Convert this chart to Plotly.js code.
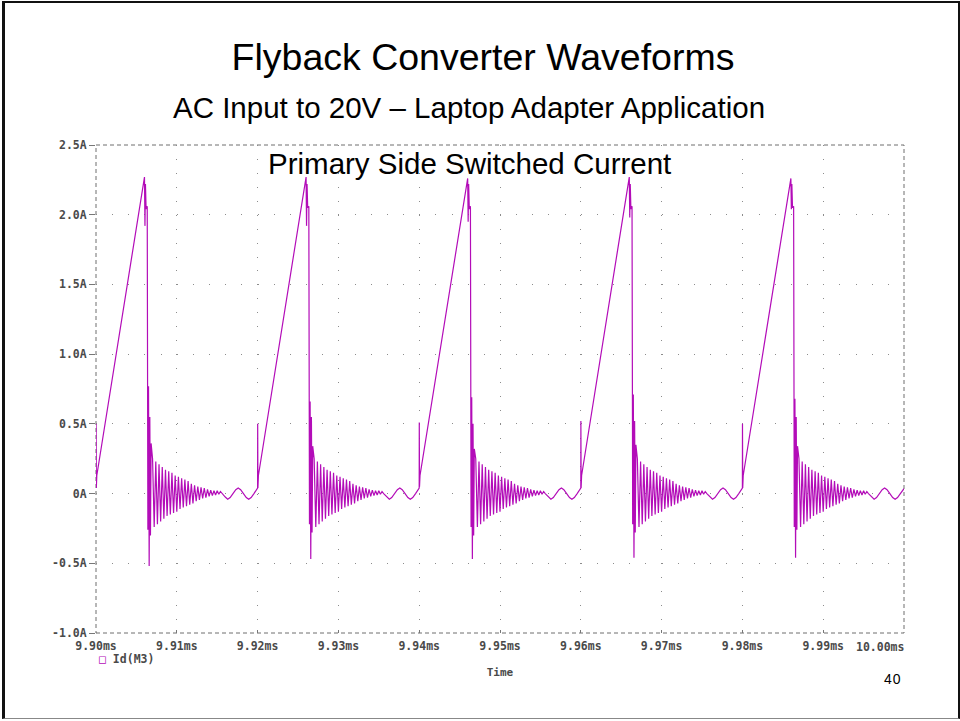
<!DOCTYPE html>
<html>
<head>
<meta charset="utf-8">
<script src="https://cdn.plot.ly/plotly-3.0.1.min.js"></script>
<style>
  html, body { margin: 0; padding: 0; background: #fff; }
  #wrap { position: relative; width: 960px; height: 721px; overflow: hidden; }
  #chart { position: absolute; left: 0; top: 0; width: 960px; height: 721px; }
  #frame { position: absolute; left: 2px; top: 1px; width: 953px; height: 715px;
           border-top: 2px solid #111; border-left: 3px solid #111; border-right: 2px solid #111;
           border-bottom: 1px solid #888; pointer-events: none; }
  #pagenum { position: absolute; left: 884px; top: 672px; font-family: "Liberation Sans", Arial, sans-serif;
             font-size: 14px; line-height: 14px; letter-spacing: 1px; color: #000; }
</style>
</head>
<body>
<div id="wrap">
  <div id="chart"></div>
  <div id="frame"></div>
  <div id="pagenum">40</div>
</div>
<script>
// ---- Data (time in ms, current in A) ----
// Start time of each switching period
const cycleStartsMs = [9.90, 9.92, 9.94, 9.96, 9.98];

// Time offsets within a period for the switching-edge part (turn-on spike, ramp, peak, turn-off)
const edgeOffsetsMs = [0.00000, 0.00001, 0.00004, 0.00010, 0.00600, 0.00606, 0.00612, 0.00620,
                       0.00634, 0.00642, 0.00650, 0.00658, 0.00666, 0.00674, 0.00682];

// Current at those offsets, one list per period
const cycle1EdgeA = [0.04, 0.50, 0.04, 0.13, 2.27, 1.92, 2.22, 2.04, 2.06, -0.26, 0.77, -0.52, 0.55, -0.30, 0.36];
const cycle2EdgeA = [0.04, 0.50, 0.04, 0.13, 2.27, 1.92, 2.22, 2.05, 2.06, -0.22, 0.66, -0.47, 0.55, -0.28, 0.34];
const cycle3EdgeA = [0.04, 0.51, 0.05, 0.13, 2.26, 1.95, 2.22, 2.04, 2.06, -0.24, 0.69, -0.47, 0.50, -0.30, 0.32];
const cycle4EdgeA = [0.04, 0.52, 0.04, 0.13, 2.27, 1.98, 2.22, 2.04, 2.06, -0.22, 0.71, -0.46, 0.52, -0.28, 0.35];
const cycle5EdgeA = [0.04, 0.50, 0.04, 0.13, 2.26, 2.04, 2.22, 2.05, 2.06, -0.24, 0.68, -0.46, 0.55, -0.26, 0.34];

// Ringing after turn-off (same in every period): time offsets and current
const ringOffsetsMs = [0.0070, 0.0072, 0.0074, 0.0076, 0.0078, 0.0080, 0.0082, 0.0084, 0.0086, 0.0088,
                       0.0090, 0.0092, 0.0094, 0.0096, 0.0098, 0.0100, 0.0102, 0.0104, 0.0106, 0.0108,
                       0.0110, 0.0112, 0.0114, 0.0116, 0.0118, 0.0120, 0.0122, 0.0124, 0.0126, 0.0128,
                       0.0130, 0.0132, 0.0134, 0.0136, 0.0138, 0.0140, 0.0142, 0.0144, 0.0146, 0.0148,
                       0.0150, 0.0152, 0.0154, 0.0156,
                       0.0160, 0.0163, 0.0166, 0.01695, 0.0173, 0.0176, 0.0179, 0.01825, 0.0186, 0.0189,
                       0.0192, 0.01955, 0.0200];
const ringA = [0.25, -0.24, 0.23, -0.22, 0.21, -0.20, 0.19, -0.18, 0.17, -0.16,
               0.16, -0.15, 0.15, -0.14, 0.13, -0.13, 0.12, -0.11, 0.11, -0.10,
               0.10, -0.09, 0.09, -0.08, 0.07, -0.07, 0.06, -0.055, 0.05, -0.045,
               0.045, -0.035, 0.04, -0.03, 0.03, -0.02, 0.025, -0.015, 0.02, -0.01,
               0.02, -0.005, 0.015, 0.00,
               -0.025, -0.040, -0.028, 0.000, 0.028, 0.040, 0.028, 0.000, -0.028, -0.040,
               -0.028, 0.000, 0.035];

// Axis ticks
const yTickVals = [-1.0, -0.5, 0, 0.5, 1.0, 1.5, 2.0, 2.5];
const yTickText = ['-1.0A', '-0.5A', '0A', '0.5A', '1.0A', '1.5A', '2.0A', '2.5A'];
const xTickVals = [9.90, 9.91, 9.92, 9.93, 9.94, 9.95, 9.96, 9.97, 9.98, 9.99, 10.00];
const xTickText = ['9.90ms', '9.91ms', '9.92ms', '9.93ms', '9.94ms', '9.95ms', '9.96ms', '9.97ms', '9.98ms', '9.99ms', '10.00ms'];

// Text
const titleText = 'Flyback Converter Waveforms';
const subtitleText = 'AC Input to 20V – Laptop Adapter Application';
const panelText = 'Primary Side Switched Current';
const seriesName = 'Id(M3)';
const xAxisName = 'Time';

// ---- Build trace ----
const cycleEdges = [cycle1EdgeA, cycle2EdgeA, cycle3EdgeA, cycle4EdgeA, cycle5EdgeA];
const tx = [], ty = [];
cycleStartsMs.forEach(function (t0, i) {
  edgeOffsetsMs.forEach(function (dt, k) { tx.push(t0 + dt); ty.push(cycleEdges[i][k]); });
  ringOffsetsMs.forEach(function (dt, k) { tx.push(t0 + dt); ty.push(ringA[k]); });
});

const lineColor = '#b30cb8';
const monoFont = { family: 'DejaVu Sans Mono, monospace', size: 11.5, color: '#4a4a4a', weight: 'bold' };

const trace = {
  x: tx, y: ty, type: 'scatter', mode: 'lines', name: seriesName,
  line: { color: lineColor, width: 1.2 }, showlegend: false, hoverinfo: 'skip'
};

const layout = {
  width: 960, height: 721,
  margin: { l: 96, r: 56, t: 145, b: 88, autoexpand: false },
  paper_bgcolor: '#ffffff', plot_bgcolor: '#ffffff',
  showlegend: false,
  title: {
    text: titleText,
    font: { family: 'Liberation Sans, Arial, sans-serif', size: 37.5, color: '#000' },
    x: 483 / 960, xanchor: 'center', xref: 'container',
    y: 1 - 57 / 721, yanchor: 'middle', yref: 'container'
  },
  xaxis: {
    range: [9.90, 10.00], tickmode: 'array', tickvals: xTickVals,
    ticktext: xTickText.slice(0, -1).concat(['']),
    showgrid: true, gridcolor: '#8c8c8c', gridwidth: 1, griddash: '1px,12.94px',
    zeroline: false, showline: false,
    ticks: 'inside', ticklen: 3, tickcolor: '#777', tickwidth: 1,
    tickfont: monoFont, ticklabelstandoff: 4,
    title: { text: xAxisName, font: { family: 'DejaVu Sans Mono, monospace', size: 11, color: '#4a4a4a', weight: 'bold' }, standoff: 16 },
    automargin: false, fixedrange: true
  },
  yaxis: {
    range: [-1.0, 2.5], tickmode: 'array', tickvals: yTickVals, ticktext: yTickText,
    showgrid: true, gridcolor: '#8c8c8c', gridwidth: 1, griddash: '1px,15.16px',
    zeroline: false, showline: false,
    ticks: 'outside', ticklen: 6, tickcolor: '#777', tickwidth: 1,
    tickfont: monoFont,
    automargin: false, fixedrange: true
  },
  shapes: [{
    type: 'rect', xref: 'paper', yref: 'paper', x0: 0, x1: 1, y0: 0, y1: 1,
    line: { color: '#6e6e6e', width: 1, dash: '4px,3px' }, layer: 'below'
  }],
  annotations: [
    { text: subtitleText, xref: 'paper', yref: 'paper', x: (469 - 96) / 808, y: 1, yshift: 38,
      xanchor: 'center', yanchor: 'middle', showarrow: false,
      font: { family: 'Liberation Sans, Arial, sans-serif', size: 29.5, color: '#000' } },
    { text: panelText, xref: 'paper', yref: 'paper', x: (469 - 96) / 808, y: (633 - 164) / 488,
      xanchor: 'center', yanchor: 'middle', showarrow: false,
      font: { family: 'Liberation Sans, Arial, sans-serif', size: 29.5, color: '#000' } },
    { text: xTickText[xTickText.length - 1], xref: 'paper', yref: 'paper', x: 1, xshift: 2, y: 0, yshift: -5,
      xanchor: 'right', yanchor: 'top', showarrow: false, font: monoFont },
    { text: '<span style="color:' + lineColor + '">□</span> ' + seriesName, xref: 'paper', yref: 'paper',
      x: 0, xshift: 1, y: 0, yshift: -26, xanchor: 'left', yanchor: 'middle', showarrow: false,
      font: { family: 'DejaVu Sans Mono, monospace', size: 11.5, color: '#4a4a4a', weight: 'bold' } }
  ]
};

Plotly.newPlot('chart', [trace], layout, { displayModeBar: false, staticPlot: true });
</script>
</body>
</html>
